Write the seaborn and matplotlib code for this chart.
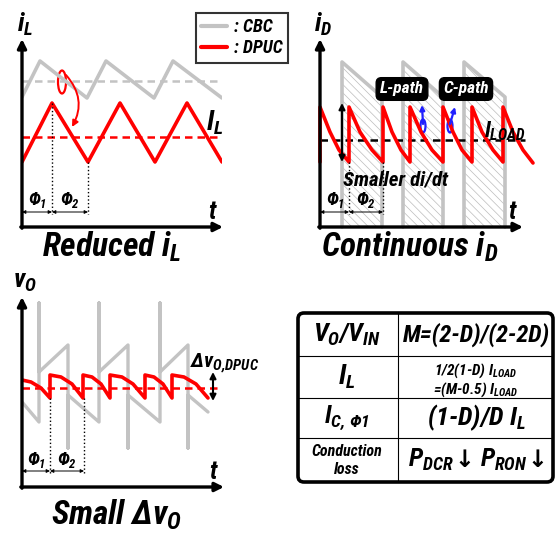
import numpy as np
import pandas as pd
import matplotlib
matplotlib.use('Agg')
import matplotlib.pyplot as plt
import seaborn as sns
from matplotlib import font_manager
from matplotlib.patches import Ellipse, FancyBboxPatch
from matplotlib.lines import Line2D

sns.set_theme(style='white')
installed = {f.name for f in font_manager.fontManager.ttflist}
FONT = next(n for n in ['Liberation Sans Narrow', 'Arial Narrow', 'Roboto Condensed',
                        'Liberation Sans', 'DejaVu Sans'] if n in installed)
# the reference uses a condensed face; shrink a bit when only a normal width one exists
SCALE = 1.0 if ('Narrow' in FONT or 'Condensed' in FONT) else 0.87
plt.rcParams['font.family'] = [FONT, 'DejaVu Sans']
plt.rcParams['font.weight'] = 'bold'
plt.rcParams['font.style'] = 'italic'
plt.rcParams['text.color'] = 'black'
plt.rcParams['mathtext.fontset'] = 'custom'
for k in ['rm', 'it', 'bf', 'sf']:
    plt.rcParams['mathtext.' + k] = FONT + ':bold:italic'
plt.rcParams['hatch.linewidth'] = 0.5
plt.rcParams['hatch.color'] = '#bcbcbc'


def fs(s):
    return s * SCALE


GRAY = '#c3c3c3'
RED = '#ff0000'

# ---- i_L panel (CBC vs DPUC inductor current) ----
il_dpuc_t = [0, 30, 66, 98, 133, 165, 200]
il_dpuc_v = [65, 124, 65, 124, 65, 124, 65]
il_dpuc_avg = 90
il_cbc_t = [0, 18, 65, 84, 132, 151, 200]
il_cbc_v = [130, 166, 129, 166, 129, 166, 129]
il_cbc_avg = 146
il_phase = [0, 30, 66]

# ---- i_D panel (diode / output current) ----
id_pulse_left = [22, 83, 144]
id_pulse_right = [62, 123, 185]
id_pulse_top = [165, 130]
id_dpuc_t = [0, 0, 10, 19, 29, 29, 40, 52, 63, 63, 72, 81, 90, 90, 101, 112, 123,
             123, 133, 142, 152, 152, 162, 173, 183, 183, 193, 203, 213]
id_dpuc_v = [65, 120, 95, 77, 65, 120, 95, 77, 65, 120, 95, 77, 65, 120, 95, 77, 65,
             120, 95, 77, 65, 120, 95, 77, 65, 120, 95, 77, 64]
id_load = 87
id_phase = [0, 29, 63]

# ---- v_O panel (output voltage) ----
vo_cbc_t = [0, 17, 17, 17, 46, 46, 46, 77, 77, 77, 106, 106, 106, 138, 138, 138,
            166, 166, 166, 186]
vo_cbc_v = [85, 65, 184, 115, 142, 39, 92, 65, 184, 115, 142, 39, 92, 65, 184, 115,
            142, 39, 92, 75]
vo_dpuc_t = [0, 9, 19, 28, 28, 39, 50, 61, 61, 70, 79, 88, 88, 100, 111, 123,
             123, 132, 141, 150, 150, 162, 174, 186]
vo_dpuc_v = [107, 105, 99, 89, 112, 110, 103, 89, 112, 110, 103, 89, 112, 110, 103, 89,
             112, 110, 103, 89, 112, 110, 103, 89]
vo_avg = 99
vo_phase = [0, 28, 62]

# ---- summary table ----
tbl_left = ['$V_{O}/V_{IN}$', '$I_{L}$', '$I_{C,\\,Φ1}$', 'Conduction']
tbl_right = ['M=(2-D)/(2-2D)', '1/2(1-D) $I_{LOAD}$', '(1-D)/D $I_{L}$']
tbl_loss = ['$P_{DCR}$', '$P_{RON}$']
tbl_extra_left = 'loss'
tbl_extra_right = '=(M-0.5) $I_{LOAD}$'

W, H = 556, 534
fig = plt.figure(figsize=(W / 100, H / 100), dpi=100)


def panel(x0, y0, w, h, ylabel):
    ax = fig.add_axes([x0 / W, (H - y0) / H, w / W, h / H])
    ax.set_xlim(0, w)
    ax.set_ylim(0, h)
    ax.axis('off')
    ap = dict(arrowstyle='-|>', color='black', lw=2.4, mutation_scale=13, shrinkA=0, shrinkB=0)
    ax.annotate('', xy=(w + 1, 0), xytext=(-1.2, 0), arrowprops=ap, annotation_clip=False)
    ax.annotate('', xy=(0, h + 1), xytext=(0, -1.2), arrowprops=ap, annotation_clip=False)
    ax.text(3, h + 16, ylabel, fontsize=fs(19), ha='center', va='center')
    ax.text(w - 10, 15, 't', fontsize=fs(18), ha='center', va='center')
    return ax


def phases(ax, ph, tops, label_v=27, arr_v=15):
    pa = dict(arrowstyle='<|-|>', color='black', lw=0.7, mutation_scale=5, shrinkA=0, shrinkB=0)
    for x, top in zip(ph[1:], tops):
        ax.plot([x, x], [top, arr_v - 2], ls=':', lw=1.0, color='black', clip_on=False)
    ax.annotate('', xy=(ph[1], arr_v), xytext=(ph[0], arr_v), arrowprops=pa)
    ax.annotate('', xy=(ph[2], arr_v), xytext=(ph[1], arr_v), arrowprops=pa)
    ax.text((ph[0] + ph[1]) / 2 + 1, label_v, '$Φ_{1}$', fontsize=fs(13), ha='center', va='center')
    ax.text((ph[1] + ph[2]) / 2, label_v, '$Φ_{2}$', fontsize=fs(13), ha='center', va='center')


# ---------- panel 1 : i_L ----------
ax1 = panel(22, 227, 200, 187, '$i_{L}$')
ax1.plot([0, 200], [il_cbc_avg] * 2, ls=(0, (3, 2)), color=GRAY, lw=1.8)
sns.lineplot(x=il_cbc_t, y=il_cbc_v, sort=False, estimator=None, color=GRAY, lw=2.6, ax=ax1)
ax1.plot([0, 200], [il_dpuc_avg] * 2, ls=(0, (3, 2)), color=RED, lw=1.8)
sns.lineplot(x=il_dpuc_t, y=il_dpuc_v, sort=False, estimator=None, color=RED, lw=2.6, ax=ax1)
phases(ax1, il_phase, [il_dpuc_v[1], il_dpuc_v[2]])
ax1.add_patch(Ellipse((40, 145), 8, 23, fill=False, ec=RED, lw=1.6))
ax1.annotate('', xy=(50, 100), xytext=(44, 152),
             arrowprops=dict(arrowstyle='-|>', color=RED, lw=1.4, mutation_scale=9,
                             connectionstyle='arc3,rad=-0.35', shrinkA=0, shrinkB=0))
ax1.text(193, 104, '$I_{L}$', fontsize=fs(20), ha='center', va='center')
leg = ax1.legend(handles=[Line2D([0], [0], color=GRAY, lw=3), Line2D([0], [0], color=RED, lw=3)],
                 labels=[': CBC', ': DPUC'], loc='upper right',
                 bbox_to_anchor=(288 / W, 1 - 13 / H), bbox_transform=fig.transFigure,
                 frameon=True, fancybox=False, edgecolor='black', fontsize=fs(13),
                 handlelength=1.4, handletextpad=0.4, borderpad=0.3, labelspacing=0.15,
                 borderaxespad=0)
leg.get_frame().set_linewidth(1.5)

# ---------- panel 2 : i_D ----------
ax2 = panel(320, 227, 202, 187, '$i_{D}$')
for l, r in zip(id_pulse_left, id_pulse_right):
    xs = [l, l, r, r]
    ys = [0, id_pulse_top[0], id_pulse_top[1], 0]
    ax2.fill(xs, ys, facecolor='white', edgecolor='#bcbcbc', hatch='\\\\\\\\', lw=0)
    ax2.plot(xs, ys, color=GRAY, lw=2.6, clip_on=False)
ax2.plot([0, 205], [id_load] * 2, ls=(0, (3, 2)), color='black', lw=1.8, clip_on=False)
sns.lineplot(x=id_dpuc_t, y=id_dpuc_v, sort=False, estimator=None, color=RED, lw=2.6, ax=ax2)
for ln in ax2.lines:
    ln.set_clip_on(False)
phases(ax2, id_phase, [id_dpuc_v[4], id_dpuc_v[8]])
ax2.annotate('', xy=(22, 124), xytext=(22, 65),
             arrowprops=dict(arrowstyle='<|-|>', color='black', lw=1.5, mutation_scale=9,
                             shrinkA=0, shrinkB=0))
ax2.text(23, 47, 'Smaller di/dt', fontsize=fs(15), ha='left', va='center')
ax2.text(185, 96, '$I_{LOAD}$', fontsize=fs(16), ha='center', va='center')
for x, lab in [(82, 'L-path'), (146, 'C-path')]:
    ax2.text(x, 138, lab, fontsize=fs(12.5), color='white', ha='center', va='center',
             bbox=dict(boxstyle='round,pad=0.22,rounding_size=0.3', fc='black', ec='black'))
for cx, tip in [(103, (102, 122)), (130, (135, 120))]:
    ax2.add_patch(Ellipse((cx, 101), 5, 13, fill=False, ec='#2020ff', lw=1.6))
    ax2.annotate('', xy=tip, xytext=(cx, 103),
                 arrowprops=dict(arrowstyle='-|>', color='#2020ff', lw=1.6, mutation_scale=7,
                                 shrinkA=0, shrinkB=0))

# ---------- panel 3 : v_O ----------
ax3 = panel(22, 487, 201, 189, '$v_{O}$')
sns.lineplot(x=vo_cbc_t, y=vo_cbc_v, sort=False, estimator=None, color=GRAY, lw=2.4, ax=ax3)
ax3.plot([0, 200], [vo_avg] * 2, ls=(0, (3, 2)), color=RED, lw=1.8)
sns.lineplot(x=vo_dpuc_t, y=vo_dpuc_v, sort=False, estimator=None, color=RED, lw=2.6, ax=ax3)
phases(ax3, vo_phase, [vo_dpuc_v[3], vo_dpuc_v[7]], label_v=27, arr_v=16)
ax3.annotate('', xy=(191, 115), xytext=(191, 86),
             arrowprops=dict(arrowstyle='<|-|>', color='black', lw=1.5, mutation_scale=9,
                             shrinkA=0, shrinkB=0))
ax3.text(168, 124, 'Δ$v_{O{,}DPUC}$', fontsize=fs(15), ha='left', va='center')

# ---------- titles ----------
fig.text(112 / W, 1 - 247 / H, 'Reduced $i_{L}$', fontsize=fs(24), ha='center', va='center')
fig.text(410 / W, 1 - 247 / H, 'Continuous $i_{D}$', fontsize=fs(24), ha='center', va='center')
fig.text(117 / W, 1 - 515 / H, 'Small Δ$v_{O}$', fontsize=fs(24), ha='center', va='center')

# ---------- table ----------
axt = fig.add_axes([298 / W, (H - 482) / H, 255 / W, 169 / H])
axt.set_xlim(0, 255)
axt.set_ylim(0, 169)
axt.axis('off')
axt.add_patch(FancyBboxPatch((0, 0), 255, 169, boxstyle='round,pad=0,rounding_size=6',
                             fc='white', ec='black', lw=2.6, clip_on=False))
axt.plot([100, 100], [0, 169], color='black', lw=0.8)
for y in [126, 84, 44]:
    axt.plot([0, 255], [y, y], color='black', lw=0.8)
row_y = [147.5, 105, 64, 31]
left_size = [19, 20, 18, 11.5]
right_size = [17.5, 11, 19]
for i in range(4):
    axt.text(49, row_y[i], tbl_left[i], fontsize=fs(left_size[i]), ha='center', va='center')
for i in range(3):
    ry = row_y[i] + (6 if i == 1 else 0)
    axt.text(178, ry, tbl_right[i], fontsize=fs(right_size[i]), ha='center', va='center')
axt.text(49, 12, tbl_extra_left, fontsize=fs(11.5), ha='center', va='center')
axt.text(178, 92, tbl_extra_right, fontsize=fs(11), ha='center', va='center')

# conduction loss row: P_DCR(down) P_RON(down), arrows taken from DejaVu Sans
p1 = axt.text(110, 22, tbl_loss[0], fontsize=fs(18.5), ha='left', va='center')
a1 = axt.annotate('↓', xy=(1, 0.5), xycoords=p1, xytext=(0.5, 0), textcoords='offset points',
                  fontsize=17, family='DejaVu Sans', weight='bold', style='normal',
                  ha='left', va='center')
p2 = axt.annotate(tbl_loss[1], xy=(1, 0), xycoords=(a1, p1), xytext=(4, 0),
                  textcoords='offset points', fontsize=fs(18.5), ha='left', va='bottom')
axt.annotate('↓', xy=(1, 0.5), xycoords=p2, xytext=(0.5, 0), textcoords='offset points',
             fontsize=17, family='DejaVu Sans', weight='bold', style='normal',
             ha='left', va='center')

fig.savefig('out.png', dpi=100)
